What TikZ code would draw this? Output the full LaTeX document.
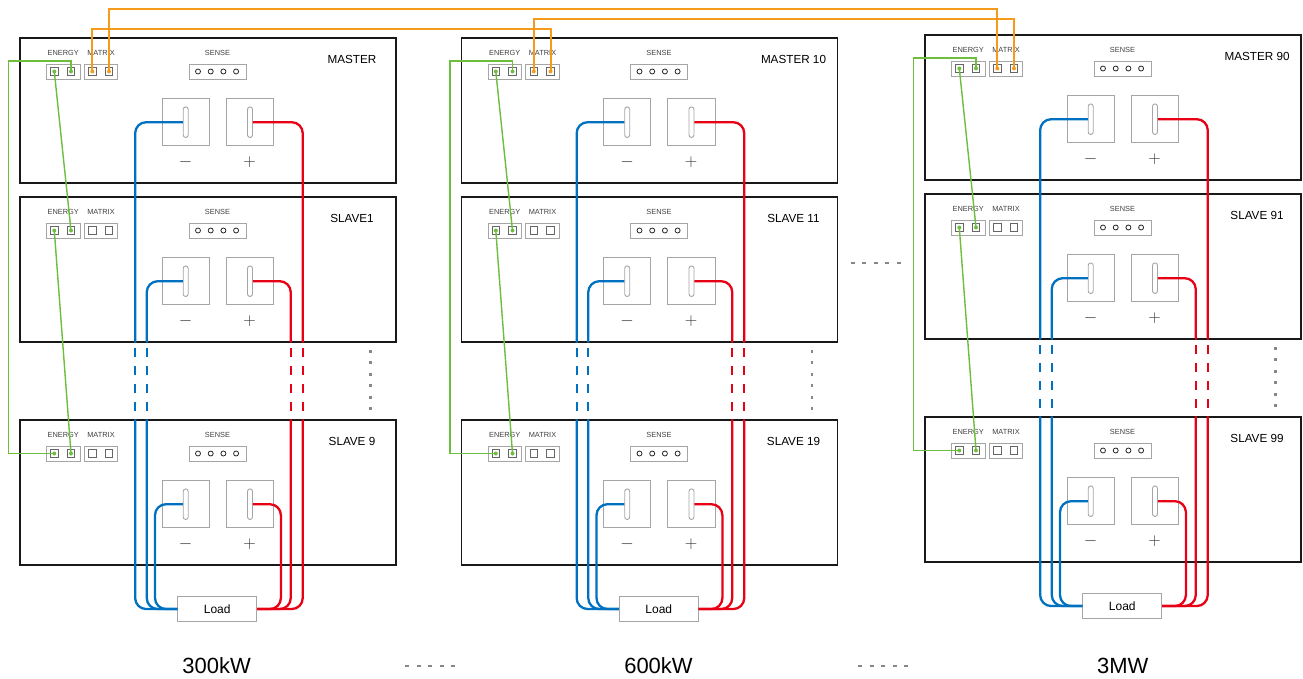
\documentclass[tikz,border=0pt]{standalone}
\usepackage{fontspec}
\setmainfont{Liberation Sans}
\usetikzlibrary{calc}

\definecolor{wireblue}{RGB}{0,112,192}
\definecolor{wirered}{RGB}{232,0,20}
\definecolor{busgreen}{RGB}{108,190,60}
\definecolor{busorange}{RGB}{245,155,25}
\definecolor{boxgray}{RGB}{165,165,165}
\definecolor{dotgray}{RGB}{135,135,135}

\begin{document}
\begin{tikzpicture}[x=1pt,y=-1pt,
  modbox/.style={draw=black!90,line width=1.1pt,minimum width=376pt,minimum height=145pt,inner sep=0pt},
  portbox/.style={draw=boxgray,line width=0.9pt,minimum width=33.3pt,minimum height=15pt,inner sep=0pt},
  sensebox/.style={draw=boxgray,line width=0.9pt,minimum width=56.7pt,minimum height=15pt,inner sep=0pt},
  pinsq/.style={draw=black!60,line width=0.6pt,minimum size=7.5pt,inner sep=0pt},
  sensehole/.style={draw=black!85,line width=0.8pt,circle,minimum size=5pt,inner sep=0pt},
  termsq/.style={draw=boxgray,line width=0.9pt,minimum size=47.3pt,inner sep=0pt},
  slotbar/.style={draw=boxgray,line width=0.9pt,rounded corners=2.5pt,minimum width=5pt,minimum height=30.6pt,inner sep=0pt},
  portlabel/.style={font=\fontsize{7.4}{8}\selectfont,text=black!75,inner sep=0pt},
  signlabel/.style={font=\fontsize{17}{20}\selectfont,text=black!80,inner sep=0pt},
  unitlabel/.style={font=\fontsize{11.7}{13}\selectfont,inner sep=0pt},
  loadbox/.style={draw=boxgray,line width=0.9pt,minimum width=79pt,minimum height=25pt,inner sep=0pt,font=\fontsize{12}{14}\selectfont},
  cable/.style={line width=2.3pt,rounded corners=11pt},
  cutwire/.style={dash pattern=on 9pt off 9pt},
  greenbus/.style={draw=busgreen,line width=1.4pt},
  matrixlink/.style={draw=busorange,line width=2pt},
  vdots/.style={dotgray,line width=2.3pt,dash pattern=on 3pt off 8.4pt},
  hdots/.style={dotgray,line width=2pt,dash pattern=on 4pt off 7.5pt}]
\useasboundingbox (0,0) rectangle (1303,679);

% the nine units
\foreach \col/\row/\X/\Y/\lab in {1/1/20/38/MASTER,1/2/20/197/SLAVE1,1/3/20/420/{SLAVE 9},
    2/1/461.5/38/{MASTER 10},2/2/461.5/197/{SLAVE 11},2/3/461.5/420/{SLAVE 19},
    3/1/925/35/{MASTER 90},3/2/925/194/{SLAVE 91},3/3/925/417/{SLAVE 99}} {
  \begin{scope}[shift={(\X,\Y)}]
    \node[modbox] (box\col\row) at (188,72.5) {};
    \node[portlabel] (en\col\row) at (43.2,15.3) {ENERGY};
    \node[portlabel] (mx\col\row) at (81,15.3) {MATRIX};
    \node[portlabel] (se\col\row) at (197.5,15.3) {SENSE};
    \node[portbox] (ep\col\row) at (43.3,33.5) {};
    \node[portbox] (mp\col\row) at (81,33.5) {};
    \node[pinsq] (el\col\row) at (34.3,33.5) {};
    \node[pinsq] (er\col\row) at (51,33.5) {};
    \node[pinsq] (ml\col\row) at (72.3,33.5) {};
    \node[pinsq] (mr\col\row) at (89,33.5) {};
    \node[sensebox] (sb\col\row) at (197.7,33.5) {};
    \foreach \h in {1,...,4}
      \node[sensehole] (h\col\row\h) at (165.3+12.7*\h,33.5) {};
    \node[termsq] (tn\col\row) at (165.7,84.2) {};
    \node[termsq] (tp\col\row) at (230,84.2) {};
    \node[slotbar] (sn\col\row) at (tn\col\row) {};
    \node[slotbar] (sp\col\row) at (tp\col\row) {};
    \node[signlabel] (mn\col\row) at (165.7,123.7) {$-$};
    \node[signlabel] (pl\col\row) at (229.7,123.7) {$+$};
    \node[unitlabel] (nm\col\row) at (332,21) {\lab};
  \end{scope}
}

% loads, cables and energy bus per column
\foreach \col in {1,2,3} {
  \node[loadbox] (load\col) at ($(box\col3.south west)+(197.8,43.5)$) {Load};
  % negative side
  \draw[cable,wireblue] (sn\col1.west) -| ($(box\col2.south west)+(115.7,0)$);
  \draw[cable,wireblue] (sn\col2.west) -| ($(box\col2.south west)+(127.3,0)$);
  \draw[cable,wireblue] ($(box\col3.north west)+(115.7,0)$) |- (load\col.west);
  \draw[cable,wireblue] ($(box\col3.north west)+(127.3,0)$) |- (load\col.west);
  \draw[cable,wireblue] (sn\col3.west) -| ($(load\col.west)+(-22.3,0)$) -- (load\col.west);
  % positive side
  \draw[cable,wirered] (sp\col1.east) -| ($(box\col2.south west)+(283.3,0)$);
  \draw[cable,wirered] (sp\col2.east) -| ($(box\col2.south west)+(271.3,0)$);
  \draw[cable,wirered] ($(box\col3.north west)+(283.3,0)$) |- (load\col.east);
  \draw[cable,wirered] ($(box\col3.north west)+(271.3,0)$) |- (load\col.east);
  \draw[cable,wirered] (sp\col3.east) -| ($(load\col.east)+(23.7,0)$) -- (load\col.east);
  % skipped units
  \foreach \dx/\clr in {115.7/wireblue,127.3/wireblue,271.3/wirered,283.3/wirered}
    \draw[line width=2.3pt,\clr,cutwire] ($(box\col2.south west)+(\dx,5.7)$) -- ++(0,63.3);
  \draw[vdots] ($(box\col2.south west)+(351,7.5)$) -- ++(0,61);
  % energy bus
  \draw[greenbus] (er\col1.center) -- ++(0,-10.5) -| ($(el\col3.center)+(-46,0)$) -- (el\col3.center);
  \draw[greenbus] (el\col1.center) -- (er\col2.center);
  \draw[greenbus] (el\col2.center) -- (er\col3.center);
  \foreach \row in {1,2,3} {
    \fill[busgreen] (el\col\row) circle (2);
    \fill[busgreen] (er\col\row) circle (2);
  }
  \fill[busorange] (ml\col1) circle (2);
  \fill[busorange] (mr\col1) circle (2);
}

% matrix links between the masters
\coordinate (lvl1) at (0,9.5);
\coordinate (lvl2) at (0,19.5);
\coordinate (lvl3) at (0,29.5);
\draw[matrixlink] (mr11.center) -- (mr11.center |- lvl1) -| (ml31.center);
\draw[matrixlink] (ml11.center) -- (ml11.center |- lvl3) -| (mr21.center);
\draw[matrixlink] (ml21.center) -- (ml21.center |- lvl2) -| (mr31.center);

% ratings
\node[font=\fontsize{22}{26}\selectfont,inner sep=0pt] (cap1) at (216.7,666) {300kW};
\node[font=\fontsize{22}{26}\selectfont,inner sep=0pt] (cap2) at (658.5,666) {600kW};
\node[font=\fontsize{22}{26}\selectfont,inner sep=0pt] (cap3) at (1122.7,665.7) {3MW};
\draw[hdots] (405,666) -- (455.5,666);
\draw[hdots] (858,666) -- (908.5,666);
\draw[hdots] (850.5,263.3) -- (900.5,263.3);
\end{tikzpicture}
\end{document}
